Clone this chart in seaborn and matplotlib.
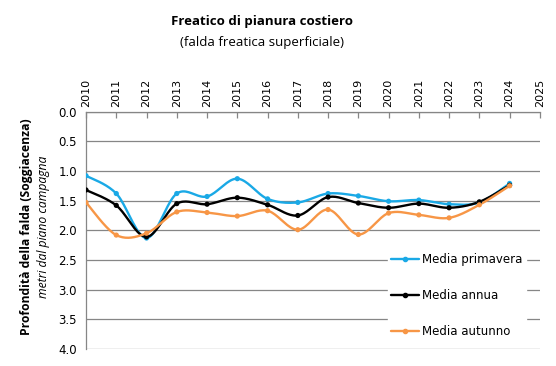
import numpy as np
import pandas as pd
import matplotlib
matplotlib.use("Agg")
import matplotlib.pyplot as plt
from matplotlib.lines import Line2D
import seaborn as sns

# Data
years = list(range(2010, 2025))
primavera = [1.08, 1.38, 2.13, 1.38, 1.43, 1.13, 1.47, 1.53, 1.38, 1.42, 1.51, 1.49, 1.56, 1.53, 1.21]
annua = [1.32, 1.58, 2.11, 1.55, 1.56, 1.45, 1.57, 1.75, 1.44, 1.54, 1.62, 1.55, 1.62, 1.52, 1.24]
autunno = [1.53, 2.08, 2.05, 1.69, 1.70, 1.76, 1.67, 1.99, 1.65, 2.07, 1.71, 1.74, 1.79, 1.57, 1.25]
year_ticks = list(range(2010, 2026))
depth_ticks = [0.0, 0.5, 1.0, 1.5, 2.0, 2.5, 3.0, 3.5, 4.0]

series = {"Media primavera": primavera, "Media annua": annua, "Media autunno": autunno}
colors = {"Media primavera": "#1aa9e6", "Media annua": "#000000", "Media autunno": "#f79646"}


def smooth(x, y, n=20):
    # Excel-like smoothed line: cubic bezier through the points
    x = np.asarray(x, float)
    y = np.asarray(y, float)
    xs, ys = [], []
    for i in range(len(x) - 1):
        p0 = np.array([x[max(i - 1, 0)], y[max(i - 1, 0)]])
        p1 = np.array([x[i], y[i]])
        p2 = np.array([x[i + 1], y[i + 1]])
        p3 = np.array([x[min(i + 2, len(x) - 1)], y[min(i + 2, len(x) - 1)]])
        c1 = p1 + (p2 - p0) / 6
        c2 = p2 - (p3 - p1) / 6
        t = np.linspace(0, 1, n, endpoint=(i == len(x) - 2))[:, None]
        pts = (1 - t) ** 3 * p1 + 3 * (1 - t) ** 2 * t * c1 + 3 * (1 - t) * t ** 2 * c2 + t ** 3 * p2
        xs.extend(pts[:, 0])
        ys.extend(pts[:, 1])
    return xs, ys


points = pd.DataFrame(
    [(yr, v, name) for name, vals in series.items() for yr, v in zip(years, vals)],
    columns=["anno", "profondita", "serie"],
)
curves = []
for name, vals in series.items():
    sx, sy = smooth(years, vals)
    curves.append(pd.DataFrame({"anno": sx, "profondita": sy, "serie": name}))
curves = pd.concat(curves, ignore_index=True)

sns.set_theme(style="white", rc={"text.color": "black", "xtick.labelcolor": "black",
                                 "ytick.labelcolor": "black"})
plt.rcParams["font.family"] = ["DejaVu Sans"]

fig = plt.figure(figsize=(5.56, 3.66), dpi=100)
ax = fig.add_axes([0.1547, 0.0464, 0.8163, 0.6486])

sns.lineplot(data=curves, x="anno", y="profondita", hue="serie", palette=colors,
             sort=False, estimator=None, linewidth=1.7, legend=False, ax=ax, zorder=3)
sns.scatterplot(data=points, x="anno", y="profondita", hue="serie", palette=colors,
                s=14, linewidth=0, legend=False, ax=ax, zorder=4)

ax.set_xlim(2010, 2025)
ax.set_ylim(4.0, 0.0)
ax.set_xticks(year_ticks)
ax.set_xticklabels([str(y) for y in year_ticks], rotation=90, fontsize=8)
ax.set_yticks(depth_ticks)
ax.set_yticklabels([f"{v:.1f}" for v in depth_ticks], fontsize=8.5)
ax.xaxis.tick_top()
ax.xaxis.set_label_position("top")
ax.tick_params(axis="x", direction="in", length=4, width=0.9, color="#868686",
               labelcolor="black", pad=3)
ax.tick_params(axis="y", direction="inout", length=7, width=0.9, color="#868686",
               labelcolor="black", pad=3)
ax.set_xlabel("")
ax.set_ylabel("")
ax.grid(axis="y", color="#868686", linewidth=0.9)
ax.set_axisbelow(True)
for side in ["right", "bottom"]:
    ax.spines[side].set_visible(False)
for side in ["top", "left"]:
    ax.spines[side].set_color("#868686")
    ax.spines[side].set_linewidth(0.9)

handles = [Line2D([0], [0], color=colors[n], lw=1.7, marker="o", markersize=3) for n in series]
leg = ax.legend(handles, list(series), loc="lower left", bbox_to_anchor=(0.665, 0.03),
                frameon=True, fontsize=8.5, labelspacing=1.95, handlelength=2.3,
                handletextpad=0.3, borderpad=0.3, borderaxespad=0)
leg.get_frame().set_edgecolor("white")
leg.get_frame().set_facecolor("white")
leg.get_frame().set_alpha(1)
for txt in leg.get_texts():
    txt.set_color("black")

fig.text(0.471, 0.94, "Freatico di pianura costiero", ha="center", va="center",
         fontsize=9.5, fontweight="bold", family="Open Sans")
fig.text(0.471, 0.885, "(falda freatica superficiale)", ha="center", va="center",
         fontsize=9.5, family="Open Sans")
fig.text(0.048, 0.38, "Profondità della falda (Soggiacenza)", rotation=90, ha="center",
         va="center", fontsize=8.7, fontweight="bold", family="Open Sans")
fig.text(0.078, 0.38, "metri dal piano campagna", rotation=90, ha="center",
         va="center", fontsize=8.7, style="italic", family="Open Sans")

fig.savefig("out.png", dpi=100)
